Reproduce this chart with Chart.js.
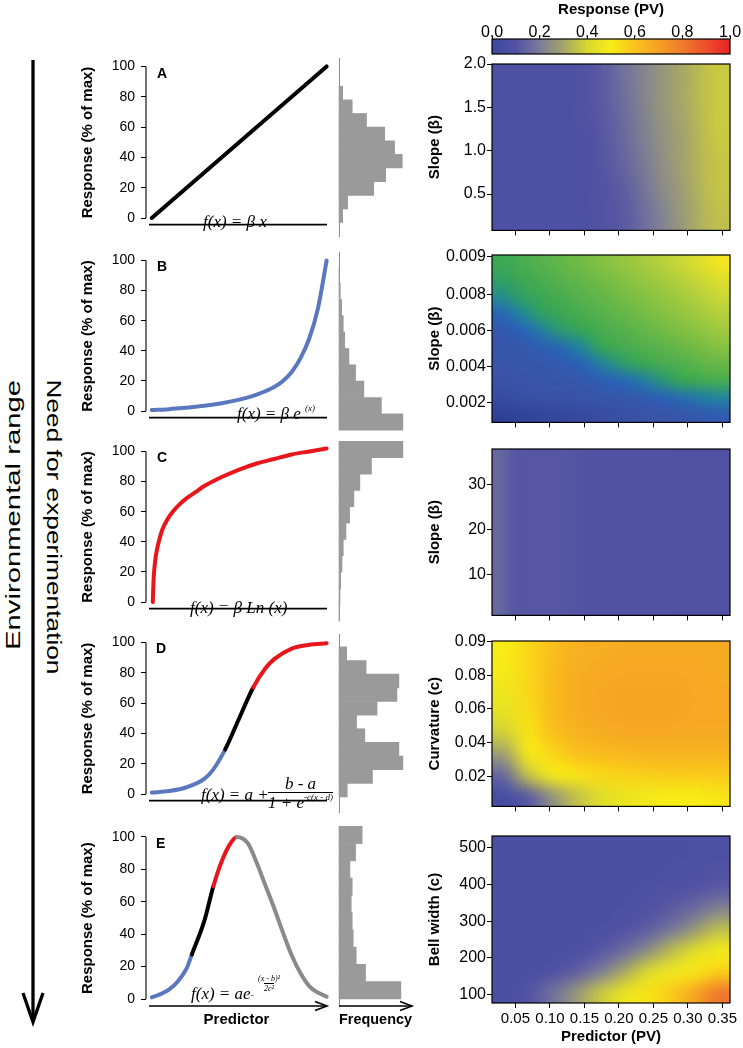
<!DOCTYPE html>
<html>
<head>
<meta charset="utf-8">
<script src="https://cdn.jsdelivr.net/npm/chart.js@4/dist/chart.umd.min.js"></script>
<style>
html, body { margin: 0; padding: 0; background: #fff; }
#fig { position: relative; width: 743px; height: 1048px; overflow: hidden; font-family: "Liberation Sans", Arial, sans-serif; }
#fig canvas { position: absolute; }
.fx { position: absolute; font-family: "Liberation Serif", "Times New Roman", serif; font-style: italic; font-size: 17px; line-height: 1; white-space: nowrap; color: #000; }
.fx sup { font-size: 9px; vertical-align: 0; position: relative; top: -8px; }
.small { font-size: 8px; }
.letter { position: absolute; font-weight: bold; font-size: 14px; line-height: 1; }
.frac { display: flex; flex-direction: column; align-items: center; }
.frac .den { border-top: 1px solid #000; padding-top: 1px; }
</style>
</head>
<body>
<div id="fig">
<svg width="743" height="1048" style="position:absolute;left:0;top:0" font-family="Liberation Sans, Arial, sans-serif">
  <line x1="33" y1="60" x2="33" y2="1020" stroke="#000" stroke-width="3.3"/>
  <polyline points="23,993 33,1022 43,993" fill="none" stroke="#000" stroke-width="3.3"/>
  <text transform="translate(20,515) rotate(-90)" text-anchor="middle" font-size="21" textLength="270" lengthAdjust="spacingAndGlyphs">Environmental range</text>
  <text transform="translate(47,527) rotate(90)" text-anchor="middle" font-size="21" textLength="295" lengthAdjust="spacingAndGlyphs">Need for experimentation</text>
</svg>
</div>
<script>
// response curves (predictor 0..1, response % of max)
const predA = [0, 1];
const respA = [0, 100];
const predB = [0, 0.1, 0.2, 0.3, 0.4, 0.5, 0.6, 0.7, 0.75, 0.8, 0.85, 0.9, 0.95, 1.0];
const respB = [0.8, 1.3, 2.3, 3.5, 5.2, 7.6, 11, 16, 20, 26, 35, 48, 68, 100];
const predC = [0.006, 0.008, 0.012, 0.02, 0.03, 0.04, 0.06, 0.09, 0.12, 0.16, 0.2, 0.25, 0.3, 0.4, 0.5, 0.6, 0.7, 0.8, 0.9, 1.0];
const respC = [0, 8, 18, 28, 35, 40, 48, 55, 60, 65, 69, 73, 77, 83, 88, 92, 95, 98, 100, 102];
const predD = [0, 0.1, 0.2, 0.3, 0.35, 0.42, 0.5, 0.58, 0.65, 0.7, 0.8, 0.9, 1.0];
const respD = [1, 2, 4.5, 10, 16, 29.5, 50, 70.3, 83, 89, 96, 98.5, 99.5];
const breaksD = [0.42, 0.58];
const predE = [0, 0.05, 0.1, 0.15, 0.2, 0.229, 0.3, 0.352, 0.4, 0.45, 0.486, 0.55, 0.6, 0.65, 0.7, 0.75, 0.8, 0.85, 0.9, 0.95, 1.0];
const respE = [1, 3, 6, 11, 19, 27.5, 48, 69.5, 85, 96, 100, 96, 84, 70, 56, 41, 27, 16, 8, 4, 1.5];
const breaksE = [0.229, 0.352, 0.486];
const respTicks = [0, 20, 40, 60, 80, 100];

// histograms: bin centre (response) and frequency
const binsA = [8.0, 16.3, 24.6, 32.9, 41.2, 49.5, 57.8, 66.1, 74.4, 82.7];
const freqA = [3.7, 8.7, 35, 47, 63.7, 56, 46, 27.7, 13.3, 3.7];
const binsB = [0, 10, 20, 30, 40, 50, 60, 70, 80, 90];
const freqB = [64.3, 42.7, 25, 16.7, 10, 5.7, 4.3, 2.7, 1.3, 0.3];
const binsC = [0, 10, 20, 30, 40, 50, 60, 70, 80, 90, 100];
const freqC = [0.3, 1, 1.7, 3, 4.3, 7, 10.7, 15, 21, 32.7, 64.3];
const binsD = [9.0, 17.3, 25.6, 33.9, 42.2, 50.5, 58.8, 67.1, 75.4, 83.7, 92.0];
const freqD = [8.3, 33.7, 64.3, 60.3, 26, 17.7, 38.3, 58.3, 60.3, 27.3, 7.7];
const binsE = [5.3, 15.8, 26.3, 36.8, 47.3, 57.8, 68.3, 78.8, 89.3, 99.8];
const freqE = [62.3, 26.7, 17.3, 14.3, 13.3, 12.3, 13.3, 11, 16.7, 23.3];

// heatmaps: predictor (PV) on x, parameter on y, rows listed top to bottom
const hmXRange = [0.016, 0.361];
const hmXTicks = [0.05, 0.10, 0.15, 0.20, 0.25, 0.30, 0.35];
const hmARange = [0.08, 2.0];
const hmATicks = [0.5, 1.0, 1.5, 2.0];
const hmALabels = ['0.5', '1.0', '1.5', '2.0'];
const hmA = [
  [0.08, 0.08, 0.08, 0.11, 0.18, 0.25, 0.31, 0.37],
  [0.08, 0.08, 0.08, 0.11, 0.17, 0.25, 0.31, 0.37],
  [0.08, 0.08, 0.08, 0.10, 0.16, 0.24, 0.30, 0.37],
  [0.08, 0.08, 0.08, 0.10, 0.15, 0.23, 0.30, 0.36],
  [0.08, 0.08, 0.08, 0.09, 0.13, 0.22, 0.29, 0.36],
  [0.08, 0.08, 0.08, 0.09, 0.12, 0.20, 0.28, 0.35]
];
const hmBRange = [0.0009, 0.0102];
const hmBTicks = [0.002, 0.004, 0.006, 0.008, 0.0101];
const hmBLabels = ['0.002', '0.004', '0.006', '0.008', '0.009'];
const hmB = [
  [0.44, 0.48, 0.52, 0.56, 0.60, 0.64, 0.68, 0.72, 0.77, 0.83, 0.90, 0.98],
  [0.40, 0.44, 0.48, 0.52, 0.56, 0.60, 0.64, 0.68, 0.72, 0.77, 0.83, 0.90],
  [0.34, 0.40, 0.44, 0.48, 0.52, 0.56, 0.60, 0.64, 0.68, 0.72, 0.77, 0.83],
  [0.23, 0.32, 0.40, 0.44, 0.48, 0.52, 0.56, 0.60, 0.64, 0.68, 0.72, 0.77],
  [0.16, 0.22, 0.30, 0.38, 0.42, 0.47, 0.51, 0.55, 0.59, 0.63, 0.67, 0.71],
  [0.14, 0.15, 0.20, 0.24, 0.32, 0.42, 0.46, 0.50, 0.53, 0.57, 0.61, 0.65],
  [0.13, 0.14, 0.15, 0.17, 0.22, 0.30, 0.38, 0.43, 0.47, 0.50, 0.54, 0.57],
  [0.12, 0.13, 0.13, 0.14, 0.15, 0.19, 0.23, 0.28, 0.36, 0.42, 0.45, 0.48],
  [0.10, 0.11, 0.12, 0.12, 0.13, 0.14, 0.15, 0.17, 0.21, 0.25, 0.29, 0.32],
  [0.05, 0.06, 0.07, 0.08, 0.09, 0.10, 0.11, 0.12, 0.13, 0.14, 0.16, 0.18]
];
const hmCRange = [0.9, 37.8];
const hmCTicks = [10, 20, 30];
const hmCLabels = ['10', '20', '30'];
const hmC = [
  [0.15, 0.11, 0.11, 0.11, 0.11, 0.105, 0.10, 0.10, 0.10, 0.10, 0.095, 0.095, 0.09, 0.09, 0.09, 0.09],
  [0.15, 0.11, 0.11, 0.11, 0.11, 0.105, 0.10, 0.10, 0.10, 0.10, 0.095, 0.095, 0.09, 0.09, 0.09, 0.09]
];
const hmDRange = [0.002, 0.1004];
const hmDTicks = [0.02, 0.04, 0.06, 0.08, 0.1];
const hmDLabels = ['0.02', '0.04', '0.06', '0.08', '0.09'];
const hmD = [
  [0.50, 0.55, 0.61, 0.65, 0.66, 0.67, 0.67, 0.67, 0.67, 0.67],
  [0.49, 0.55, 0.62, 0.66, 0.67, 0.68, 0.68, 0.68, 0.68, 0.67],
  [0.47, 0.55, 0.62, 0.66, 0.68, 0.69, 0.69, 0.69, 0.68, 0.68],
  [0.44, 0.54, 0.62, 0.66, 0.68, 0.69, 0.69, 0.69, 0.68, 0.68],
  [0.38, 0.52, 0.60, 0.64, 0.66, 0.67, 0.67, 0.67, 0.67, 0.67],
  [0.28, 0.48, 0.55, 0.60, 0.62, 0.63, 0.64, 0.64, 0.64, 0.64],
  [0.15, 0.35, 0.48, 0.52, 0.55, 0.56, 0.57, 0.58, 0.58, 0.58],
  [0.05, 0.12, 0.25, 0.35, 0.42, 0.46, 0.48, 0.50, 0.50, 0.52]
];
const hmERange = [77, 532];
const hmETicks = [100, 200, 300, 400, 500];
const hmELabels = ['100', '200', '300', '400', '500'];
const hmE = [
  [0.07, 0.07, 0.07, 0.07, 0.07, 0.07, 0.07, 0.07, 0.08, 0.08],
  [0.07, 0.07, 0.07, 0.07, 0.07, 0.07, 0.07, 0.08, 0.08, 0.09],
  [0.07, 0.07, 0.07, 0.07, 0.07, 0.07, 0.08, 0.09, 0.10, 0.12],
  [0.07, 0.07, 0.07, 0.07, 0.07, 0.08, 0.09, 0.12, 0.16, 0.22],
  [0.07, 0.07, 0.07, 0.07, 0.08, 0.10, 0.13, 0.19, 0.27, 0.35],
  [0.07, 0.07, 0.07, 0.08, 0.11, 0.16, 0.24, 0.34, 0.42, 0.48],
  [0.07, 0.07, 0.09, 0.13, 0.20, 0.30, 0.40, 0.47, 0.52, 0.57],
  [0.07, 0.10, 0.17, 0.26, 0.36, 0.45, 0.52, 0.58, 0.68, 0.80]
];
const cbTicks = [0, 0.2, 0.4, 0.6, 0.8, 1.0];

// colour scales
const pvStops = [0, 0.1, 0.2, 0.3, 0.4, 0.5, 0.6, 0.7, 0.8, 0.9, 1.0];
const pvColours = ['#3a4a9e', '#5252a4', '#7b7b9a', '#a5a56a', '#d8d830', '#f8ec16', '#f9c31c', '#f5a025', '#f07a2c', '#ec4f2c', '#e82228'];
const bStops = [0, 0.12, 0.22, 0.32, 0.42, 0.6, 0.8, 1.0];
const bColours = ['#26358a', '#3a52a6', '#2962b8', '#21869a', '#35a555', '#72bb45', '#c2d43a', '#f8e81e'];

const BLUE = '#5a78c0', RED = '#e8161b', BLACK = '#000', GREY = '#8a8a8a';

Chart.defaults.font.family = '"Liberation Sans", Arial, sans-serif';
Chart.defaults.color = '#000';
Chart.defaults.animation = false;
Chart.defaults.events = [];
Chart.defaults.plugins.legend.display = false;
Chart.defaults.plugins.tooltip.enabled = false;

const fig = document.getElementById('fig');
const RESP_MIN = -4.3, RESP_MAX = 104, PX = 1.64;
const rowY100 = [65, 258.3, 449.3, 640.7, 835];
const hmRows = [[64.3, 233.3], [255, 425], [449.3, 617.7], [640.7, 809], [836, 1003.3]];

function hexToRgb(h) {
  return [parseInt(h.slice(1, 3), 16), parseInt(h.slice(3, 5), 16), parseInt(h.slice(5, 7), 16)];
}
function colourAt(stops, cols, v) {
  v = Math.max(stops[0], Math.min(stops[stops.length - 1], v));
  let i = 0;
  while (i < stops.length - 2 && v > stops[i + 1]) i++;
  const t = (v - stops[i]) / (stops[i + 1] - stops[i]);
  const a = hexToRgb(cols[i]), b = hexToRgb(cols[i + 1]);
  return a.map((c, k) => Math.round(c + (b[k] - c) * t));
}

function makeCanvas(box, m) {
  const L = Math.round(box.l - m.l), T = Math.round(box.t - m.t);
  const R = Math.round(box.r + m.r), B = Math.round(box.b + m.b);
  const c = document.createElement('canvas');
  c.width = R - L; c.height = B - T;
  c.style.left = L + 'px'; c.style.top = T + 'px';
  c.style.width = (R - L) + 'px'; c.style.height = (B - T) + 'px';
  fig.appendChild(c);
  return {
    canvas: c,
    axL: Math.round(box.l) - L,
    axB: B - Math.round(box.b),
    padT: Math.round(box.t) - T,
    padR: R - Math.round(box.r)
  };
}

function respBox(row, l, r) {
  const y100 = rowY100[row];
  return { l: l, r: r, t: y100 - (RESP_MAX - 100) * PX, b: y100 + (100 - RESP_MIN) * PX };
}

function arrowHead(ctx, x, y) {
  ctx.beginPath();
  ctx.moveTo(x - 12, y - 4.5); ctx.lineTo(x, y); ctx.lineTo(x - 12, y + 4.5);
  ctx.stroke();
}

// line panels
function curvePanel(row, xs, ys, colours, breaks, last) {
  const box = respBox(row, 146, 327);
  const cv = makeCanvas(box, { l: 71, t: 12, r: 6, b: last ? 1040 - box.b : 3 });
  const segColour = x => colours[breaks.filter(b => b <= x).length];
  new Chart(cv.canvas, {
    type: 'line',
    data: {
      datasets: [{
        data: xs.map((x, i) => ({ x: x, y: ys[i] })),
        borderColor: colours[0],
        borderWidth: 4,
        pointRadius: 0,
        cubicInterpolationMode: 'monotone',
        borderCapStyle: 'round',
        clip: false,
        segment: { borderColor: ctx => segColour(ctx.p0.parsed.x) }
      }]
    },
    options: {
      responsive: false,
      layout: { padding: { left: 0, top: cv.padT, right: cv.padR, bottom: 0 } },
      scales: {
        x: {
          type: 'linear', min: -0.033, max: 1.002, bounds: 'data',
          grid: { display: false }, border: { display: false }, ticks: { display: false },
          title: { display: last, text: 'Predictor', font: { size: 15, weight: 'bold' }, padding: { top: 0, bottom: 11 } },
          afterFit: s => { s.height = cv.axB; }
        },
        y: {
          type: 'linear', min: RESP_MIN, max: RESP_MAX, bounds: 'data',
          afterBuildTicks: s => { s.ticks = respTicks.map(v => ({ value: v })); },
          ticks: { font: { size: 14 }, padding: 6, autoSkip: false },
          grid: { drawOnChartArea: false, drawTicks: true, tickLength: 5, color: '#000' },
          border: { display: false },
          title: { display: true, text: 'Response (% of max)', font: { size: 15, weight: 'bold' }, padding: { top: 4, bottom: 0 } },
          afterFit: s => { s.width = cv.axL; }
        }
      }
    },
    plugins: [{
      id: 'respAxes',
      afterDraw(chart) {
        const { ctx, chartArea: a, scales: { y } } = chart;
        ctx.save();
        ctx.strokeStyle = '#000';
        ctx.lineWidth = 1.1;
        ctx.beginPath();
        ctx.moveTo(a.left, y.getPixelForValue(respTicks[0]));
        ctx.lineTo(a.left, y.getPixelForValue(respTicks[respTicks.length - 1]));
        ctx.stroke();
        ctx.lineWidth = 1.6;
        ctx.beginPath();
        ctx.moveTo(a.left + 3, a.bottom); ctx.lineTo(a.right, a.bottom);
        ctx.stroke();
        if (last) arrowHead(ctx, a.right, a.bottom);
        ctx.restore();
      }
    }]
  });
}

// histogram panels
function histPanel(row, bins, freq, last) {
  const box = respBox(row, 338.5, 412);
  const cv = makeCanvas(box, { l: 4, t: 12, r: 8, b: last ? 1040 - box.b : 3 });
  new Chart(cv.canvas, {
    type: 'bar',
    data: {
      datasets: [{
        data: bins.map((b, i) => ({ x: freq[i], y: b })),
        backgroundColor: '#9a9a9a',
        borderWidth: 0,
        barPercentage: 1,
        categoryPercentage: 1,
        clip: false
      }]
    },
    options: {
      responsive: false,
      indexAxis: 'y',
      layout: { padding: { left: 0, top: cv.padT, right: cv.padR, bottom: 0 } },
      scales: {
        x: {
          type: 'linear', min: 0, max: 73.5, bounds: 'data',
          grid: { display: false }, border: { display: false }, ticks: { display: false },
          title: { display: last, text: 'Frequency', font: { size: 15, weight: 'bold' }, padding: { top: 0, bottom: 11 } },
          afterFit: s => { s.height = cv.axB; }
        },
        y: {
          type: 'linear', min: RESP_MIN, max: RESP_MAX, bounds: 'data', offset: false,
          afterBuildTicks: s => { s.ticks = [{ value: RESP_MIN }, { value: RESP_MAX }]; },
          grid: { display: false, offset: false }, ticks: { display: false },
          border: { display: true, color: '#8c8c8c', width: 1 },
          afterFit: s => { s.width = cv.axL; }
        }
      }
    },
    plugins: [{
      id: 'freqArrow',
      afterDraw(chart) {
        if (!last) return;
        const { ctx, chartArea: a } = chart;
        ctx.save();
        ctx.strokeStyle = '#000';
        ctx.lineWidth = 1.6;
        ctx.beginPath();
        ctx.moveTo(a.left, a.bottom); ctx.lineTo(a.right, a.bottom);
        ctx.stroke();
        arrowHead(ctx, a.right, a.bottom);
        ctx.restore();
      }
    }]
  });
}

// heatmap panels
function heatPanel(row, grid, yRange, yTicks, yLabels, yTitle, stops, colours, last) {
  const box = { l: 491.7, r: 730.3, t: hmRows[row][0], b: hmRows[row][1] };
  const cv = makeCanvas(box, { l: 69.7, t: 12, r: 12.7, b: last ? 1048 - box.b : 8 });
  new Chart(cv.canvas, {
    type: 'scatter',
    data: { datasets: [] },
    options: {
      responsive: false,
      layout: { padding: { left: 0, top: cv.padT, right: cv.padR, bottom: 0 } },
      scales: {
        x: {
          type: 'linear', min: hmXRange[0], max: hmXRange[1], bounds: 'data',
          afterBuildTicks: s => { s.ticks = hmXTicks.map(v => ({ value: v })); },
          ticks: { display: last, font: { size: 15 }, padding: 2, autoSkip: false, maxRotation: 0, callback: v => v.toFixed(2) },
          grid: { drawOnChartArea: false, drawTicks: true, tickLength: 5, color: '#000' },
          border: { display: false },
          title: { display: last, text: 'Predictor (PV)', font: { size: 15, weight: 'bold' }, padding: { top: 0, bottom: 2 } },
          afterFit: s => { s.height = cv.axB; }
        },
        y: {
          type: 'linear', min: yRange[0], max: yRange[1], bounds: 'data',
          afterBuildTicks: s => { s.ticks = yTicks.map(v => ({ value: v })); },
          ticks: { font: { size: 16 }, padding: 1, autoSkip: false, callback: (v, i) => yLabels[i] },
          grid: { drawOnChartArea: false, drawTicks: true, tickLength: 5, color: '#000' },
          border: { display: false },
          title: { display: true, text: yTitle, font: { size: 15, weight: 'bold' }, padding: { top: 4, bottom: 0 } },
          afterFit: s => { s.width = cv.axL; }
        }
      }
    },
    plugins: [{
      id: 'heatLayer',
      beforeDatasetsDraw(chart) {
        const { ctx, scales: { x, y } } = chart;
        const ny = grid.length, nx = grid[0].length;
        const off = document.createElement('canvas');
        off.width = nx; off.height = ny;
        const octx = off.getContext('2d');
        const img = octx.createImageData(nx, ny);
        grid.forEach((r, ri) => r.forEach((v, ci) => {
          const rgb = colourAt(stops, colours, v), k = (ri * nx + ci) * 4;
          img.data[k] = rgb[0]; img.data[k + 1] = rgb[1]; img.data[k + 2] = rgb[2]; img.data[k + 3] = 255;
        }));
        octx.putImageData(img, 0, 0);
        const x0 = x.getPixelForValue(hmXRange[0]), x1 = x.getPixelForValue(hmXRange[1]);
        const y0 = y.getPixelForValue(yRange[1]), y1 = y.getPixelForValue(yRange[0]);
        ctx.save();
        ctx.imageSmoothingEnabled = true;
        ctx.imageSmoothingQuality = 'high';
        ctx.drawImage(off, x0, y0, x1 - x0, y1 - y0);
        ctx.restore();
      },
      afterDraw(chart) {
        const { ctx, chartArea: a } = chart;
        ctx.save();
        ctx.strokeStyle = '#000';
        ctx.lineWidth = 1.2;
        ctx.strokeRect(a.left, a.top, a.right - a.left, a.bottom - a.top);
        ctx.restore();
      }
    }]
  });
}

// colour bar
function colourBar() {
  const box = { l: 491.7, r: 730.3, t: 39.3, b: 54 };
  const cv = makeCanvas(box, { l: 12, t: 39.3, r: 12.7, b: 6 });
  new Chart(cv.canvas, {
    type: 'scatter',
    data: { datasets: [] },
    options: {
      responsive: false,
      layout: { padding: { left: cv.axL, top: 0, right: cv.padR, bottom: cv.axB } },
      scales: {
        x: {
          type: 'linear', position: 'top', min: 0, max: 1, bounds: 'data',
          afterBuildTicks: s => { s.ticks = cbTicks.map(v => ({ value: v })); },
          ticks: { font: { size: 16 }, padding: -6, autoSkip: false, maxRotation: 0, callback: v => v.toFixed(1) },
          grid: { drawOnChartArea: false, drawTicks: true, tickLength: 3, color: '#000' },
          border: { display: false },
          title: { display: true, text: 'Response (PV)', font: { size: 15, weight: 'bold' }, padding: { top: 1, bottom: 0 } },
          afterFit: s => { s.height = cv.padT; }
        },
        y: { type: 'linear', min: 0, max: 1, display: false }
      }
    },
    plugins: [{
      id: 'cbar',
      beforeDatasetsDraw(chart) {
        const { ctx, chartArea: a, scales: { x } } = chart;
        const g = ctx.createLinearGradient(x.getPixelForValue(0), 0, x.getPixelForValue(1), 0);
        pvStops.forEach((s, i) => g.addColorStop(s, pvColours[i]));
        ctx.save();
        ctx.fillStyle = g;
        ctx.fillRect(a.left, a.top, a.right - a.left, a.bottom - a.top);
        ctx.strokeStyle = '#000';
        ctx.lineWidth = 1.2;
        ctx.strokeRect(a.left, a.top, a.right - a.left, a.bottom - a.top);
        ctx.restore();
      }
    }]
  });
}

curvePanel(0, predA, respA, [BLACK], [], false);
curvePanel(1, predB, respB, [BLUE], [], false);
curvePanel(2, predC, respC, [RED], [], false);
curvePanel(3, predD, respD, [BLUE, BLACK, RED], breaksD, false);
curvePanel(4, predE, respE, [BLUE, BLACK, RED, GREY], breaksE, true);

histPanel(0, binsA, freqA, false);
histPanel(1, binsB, freqB, false);
histPanel(2, binsC, freqC, false);
histPanel(3, binsD, freqD, false);
histPanel(4, binsE, freqE, true);

colourBar();
heatPanel(0, hmA, hmARange, hmATicks, hmALabels, 'Slope (β)', pvStops, pvColours, false);
heatPanel(1, hmB, hmBRange, hmBTicks, hmBLabels, 'Slope (β)', bStops, bColours, false);
heatPanel(2, hmC, hmCRange, hmCTicks, hmCLabels, 'Slope (β)', pvStops, pvColours, false);
heatPanel(3, hmD, hmDRange, hmDTicks, hmDLabels, 'Curvature (c)', pvStops, pvColours, false);
heatPanel(4, hmE, hmERange, hmETicks, hmELabels, 'Bell width (c)', pvStops, pvColours, true);

// panel letters and formulas
const notes = [
  ['letter', 157, 66, 'A'],
  ['letter', 157, 259, 'B'],
  ['letter', 157, 450, 'C'],
  ['letter', 156, 641, 'D'],
  ['letter', 156, 836, 'E'],
  ['fx', 203, 213, 'f(x) = β x'],
  ['fx', 237, 405, 'f(x) = β e <sup>(x)</sup>'],
  ['fx', 190, 599, 'f(x) = β Ln (x)'],
  ['fx', 201, 786, 'f(x) = a +'],
  ['fx frac', 268, 775, '<span>b - a</span><span class="den">1 + e<sup>-c(x - d)</sup></span>'],
  ['fx', 191, 985, 'f(x) = ae'],
  ['fx', 251, 984, '<span class="small">-</span>'],
  ['fx frac small', 258, 975, '<span>(x - b)²</span><span class="den">2c²</span>']
];
notes.forEach(([cls, x, y, html]) => {
  const d = document.createElement('div');
  d.className = cls;
  d.style.left = x + 'px';
  d.style.top = y + 'px';
  d.innerHTML = html;
  fig.appendChild(d);
});
</script>
</body>
</html>
